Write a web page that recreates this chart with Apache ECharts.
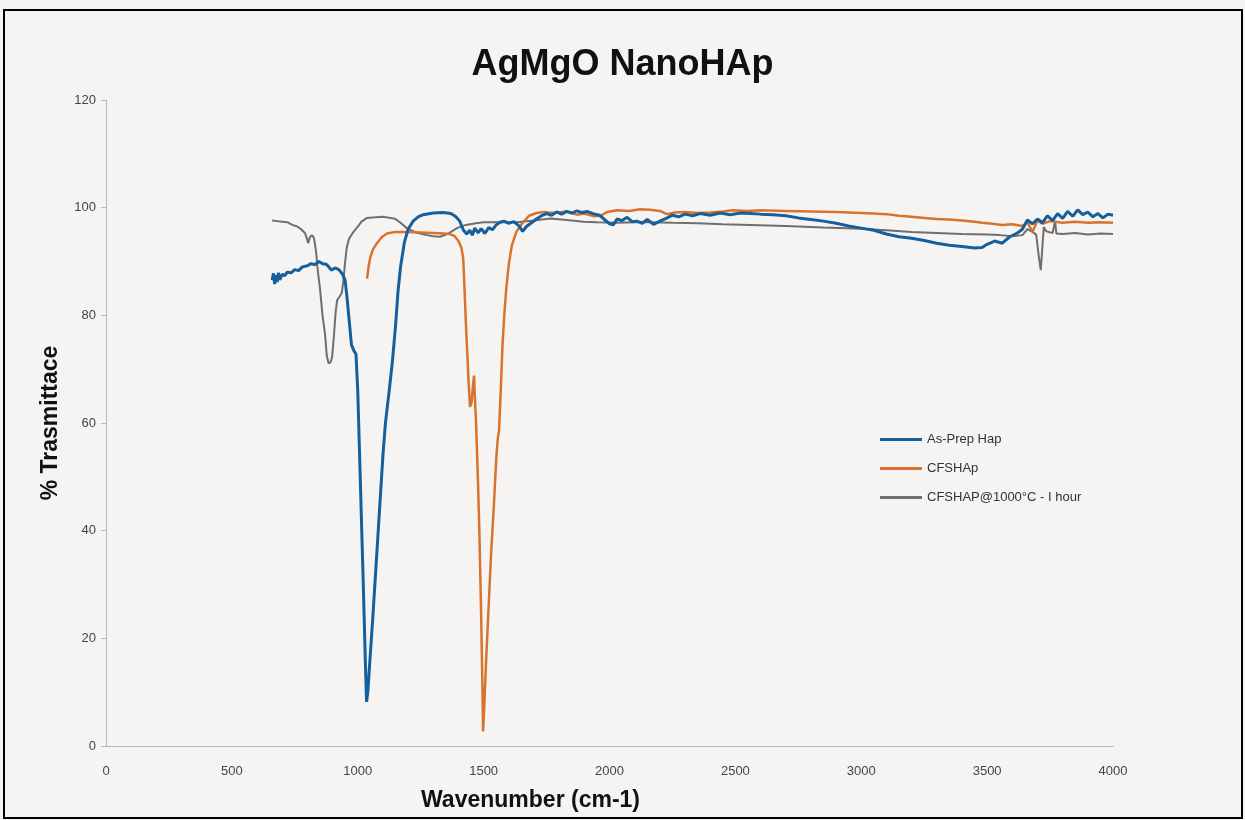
<!DOCTYPE html>
<html>
<head>
<meta charset="utf-8">
<script src="https://cdn.jsdelivr.net/npm/echarts@6/dist/echarts.min.js"></script>
<style>
  html, body { margin: 0; padding: 0; background: #ffffff; }
  #chart { width: 1245px; height: 820px; }
</style>
</head>
<body>
<div id="chart"></div>
<script>
// ---- data ----
var chartTitle = "AgMgO NanoHAp";
var xAxisTitle = "Wavenumber (cm-1)";
var yAxisTitle = "% Trasmittace";
var seriesNames = ["As-Prep Hap", "CFSHAp", "CFSHAP@1000\u00b0C - I hour"];
var xTicks = [0, 500, 1000, 1500, 2000, 2500, 3000, 3500, 4000];
var yTicks = [0, 20, 40, 60, 80, 100, 120];

var asPrepHap = [
  [660,86.5],[665,87.8],[670,85.8],[675,87.5],[680,86.2],[685,87.9],[690,86.6],[700,87.6],[710,87.4],[720,88.0],
  [735,87.9],[750,88.5],[765,88.3],[780,89.0],[800,89.2],[815,89.6],[830,89.4],[845,90.0],[860,89.6],[875,89.5],
  [885,89.0],[895,88.4],[910,88.8],[925,88.5],[940,87.6],[950,86.5],[958,83],[966,79],[975,74.5],[985,73.4],
  [993,72.8],[1000,66],[1011,48],[1022,30],[1030,16],[1035,8.2],[1040,10],[1047,15],[1060,24],[1080,39],
  [1100,54],[1110,60],[1125,66],[1138,71.6],[1150,78],[1160,84.5],[1170,89],[1185,93.5],[1200,96],[1220,97.5],
  [1240,98.3],[1260,98.7],[1300,99],[1340,99.1],[1370,98.9],[1390,98.3],[1405,97.5],[1420,95.8],[1433,95.1],[1445,95.8],
  [1455,94.9],[1465,96.2],[1478,95.3],[1490,96.1],[1505,95.2],[1520,96.3],[1535,95.9],[1550,96.8],[1565,97.3],[1580,97.5],
  [1600,97.1],[1620,97.4],[1640,96.6],[1655,95.6],[1670,96.5],[1690,97.2],[1710,97.9],[1730,98.5],[1750,98.9],[1770,98.6],
  [1790,99.2],[1810,98.8],[1830,99.3],[1850,99.0],[1870,99.4],[1890,99.1],[1910,99.3],[1935,98.9],[1960,98.6],[1980,97.8],
  [2000,97.0],[2015,96.8],[2030,97.9],[2050,97.6],[2070,98.2],[2090,97.4],[2110,97.5],[2130,97.1],[2150,97.8],[2175,96.9],
  [2200,97.5],[2225,98.0],[2250,98.6],[2275,98.3],[2300,98.8],[2330,98.5],[2360,98.9],[2400,98.6],[2440,99.0],[2480,98.7],
  [2520,99.0],[2560,98.9],[2600,98.8],[2650,98.7],[2700,98.5],[2750,98.1],[2800,97.8],[2850,97.5],[2900,97.1],[2950,96.6],
  [3000,96.2],[3050,95.8],[3100,95.1],[3150,94.6],[3200,94.3],[3250,93.9],[3300,93.4],[3350,93.0],[3400,92.8],[3450,92.5],
  [3480,92.6],[3500,93.2],[3530,93.8],[3560,93.4],[3590,94.6],[3620,95.3],[3640,96.0],[3660,97.7],[3680,97.0],[3700,97.9],
  [3720,97.2],[3740,98.5],[3760,97.6],[3780,98.9],[3800,98.0],[3820,99.3],[3840,98.4],[3860,99.6],[3880,98.7],[3900,99.2],
  [3920,98.3],[3940,98.9],[3960,98.1],[3980,98.8],[4000,98.6]
];

var cfsHAp = [
  [1037,86.8],[1043,89],[1050,90.8],[1060,92.2],[1076,93.4],[1095,94.5],[1116,95.2],[1150,95.5],[1195,95.5],[1250,95.4],
  [1300,95.3],[1340,95.2],[1366,95.1],[1385,94.7],[1400,93.8],[1412,92.5],[1419,90.5],[1424,85],[1430,78],[1436,72],
  [1441,67],[1446,63],[1452,63.8],[1458,67],[1462,68.8],[1466,64],[1470,60],[1477,50],[1483,40],[1490,25],
  [1494,14],[1498,2.7],[1503,8],[1510,16],[1520,26],[1530,36],[1541,45],[1551,54],[1556,57],[1561,58.5],
  [1568,66],[1575,74.5],[1582,80],[1590,85],[1600,89.5],[1612,93],[1630,95.5],[1652,97],[1680,98.5],[1710,99],
  [1740,99.2],[1780,99],[1830,99.3],[1870,98.7],[1900,98.9],[1940,98.4],[1965,98.5],[1990,99.2],[2030,99.5],[2080,99.4],
  [2120,99.7],[2162,99.6],[2200,99.4],[2228,98.8],[2260,99.1],[2300,99.2],[2350,99.0],[2400,99.1],[2450,99.3],[2490,99.5],
  [2550,99.4],[2600,99.5],[2700,99.4],[2800,99.3],[2900,99.2],[2950,99.1],[3000,99.0],[3050,98.9],[3100,98.8],[3150,98.5],
  [3200,98.3],[3250,98.1],[3300,97.9],[3350,97.8],[3400,97.6],[3450,97.4],[3480,97.2],[3520,97.0],[3560,96.8],[3600,96.9],
  [3640,96.6],[3660,97.3],[3680,95.5],[3700,97.6],[3720,97.0],[3750,97.5],[3800,97.2],[3850,97.4],[3900,97.2],[3950,97.3],
  [4000,97.2]
];

var cfsHAp1000 = [
  [660,97.6],[680,97.5],[700,97.4],[720,97.3],[740,96.8],[760,96.5],[775,96.0],[790,95.3],[798,94.3],[803,93.4],
  [810,94.5],[818,94.9],[826,94.4],[834,92],[842,88],[850,85],[860,80],[870,76.5],[877,72.5],[884,71.1],
  [892,71.3],[898,72.2],[905,76],[912,80.5],[918,82.8],[928,83.5],[937,84.2],[943,86.5],[949,89.5],[956,92.5],
  [965,94.2],[980,95.3],[997,96.3],[1015,97.4],[1037,98.1],[1070,98.2],[1100,98.3],[1130,98.1],[1150,97.9],[1170,97.2],
  [1195,96.2],[1230,95.4],[1275,94.9],[1300,94.7],[1327,94.6],[1360,95.2],[1394,96.2],[1430,96.8],[1470,97.1],[1500,97.3],
  [1560,97.3],[1633,97.3],[1700,97.6],[1765,98.0],[1830,97.7],[1897,97.4],[1950,97.3],[2030,97.2],[2100,97.3],[2162,97.3],
  [2250,97.2],[2350,97.1],[2450,96.9],[2558,96.8],[2700,96.6],[2850,96.3],[3000,96.1],[3100,95.8],[3200,95.5],[3300,95.3],
  [3400,95.1],[3500,95.0],[3550,94.9],[3600,94.7],[3640,94.9],[3660,96.0],[3680,95.5],[3695,95.0],[3705,91],[3713,88.4],
  [3720,93],[3725,96.4],[3735,95.6],[3760,95.3],[3770,97.5],[3775,95.2],[3800,95.1],[3850,95.3],[3900,95.0],[3950,95.2],
  [4000,95.1]
];

var seriesData = [asPrepHap, cfsHAp, cfsHAp1000];
var seriesColors = ["#145f9c", "#d9722c", "#6e6e6e"];
var seriesWidths = [3, 2.5, 2];

var chart = echarts.init(document.getElementById('chart'), null, { renderer: 'canvas' });

var labelFont = '"Liberation Sans", "Open Sans", sans-serif';

var option = {
  backgroundColor: '#f6f4f3',
  animation: false,
  title: {
    text: chartTitle,
    left: 'center',
    top: 42,
    textStyle: { fontSize: 36, fontWeight: 'bold', color: '#111', fontFamily: labelFont }
  },
  graphic: [{
    type: 'rect',
    shape: { x: 4, y: 10, width: 1238, height: 808 },
    style: { fill: 'none', stroke: '#000', lineWidth: 2 },
    silent: true
  }],
  legend: {
    orient: 'vertical',
    left: 875,
    top: 428,
    icon: 'rect',
    itemWidth: 42,
    itemHeight: 3,
    itemGap: 16,
    textStyle: { fontSize: 13, color: '#333', fontFamily: labelFont },
    data: seriesNames
  },
  grid: { left: 106, right: 132, top: 100, bottom: 74, containLabel: false },
  xAxis: {
    type: 'value',
    min: xTicks[0],
    max: xTicks[xTicks.length - 1],
    interval: 500,
    name: xAxisTitle,
    nameLocation: 'middle',
    nameGap: 43,
    nameTextStyle: { fontSize: 23, fontWeight: 'bold', color: '#111', fontFamily: labelFont, padding: [0, 158, 0, 0] },
    axisLine: { show: true, lineStyle: { color: '#b8b8b8', width: 1 } },
    axisTick: { show: false },
    splitLine: { show: false },
    axisLabel: { fontSize: 13, color: '#444', margin: 19, fontFamily: labelFont,
                 formatter: function (v) { return String(v); } }
  },
  yAxis: {
    type: 'value',
    min: yTicks[0],
    max: yTicks[yTicks.length - 1],
    interval: 20,
    name: yAxisTitle,
    nameLocation: 'middle',
    nameGap: 44,
    nameTextStyle: { fontSize: 23, fontWeight: 'bold', color: '#111', fontFamily: labelFont },
    axisLine: { show: true, lineStyle: { color: '#b8b8b8', width: 1 } },
    axisTick: { show: true, length: 5, lineStyle: { color: '#b8b8b8' } },
    splitLine: { show: false },
    axisLabel: { fontSize: 13, color: '#444', margin: 10, fontFamily: labelFont,
                 formatter: function (v) { return String(v); } }
  },
  series: seriesNames.map(function (name, i) {
    return {
      name: name,
      type: 'line',
      data: seriesData[i],
      showSymbol: false,
      symbol: 'none',
      smooth: false,
      z: 3 - i,
      lineStyle: { color: seriesColors[i], width: seriesWidths[i] },
      itemStyle: { color: seriesColors[i] }
    };
  })
};

chart.setOption(option);
</script>
</body>
</html>
